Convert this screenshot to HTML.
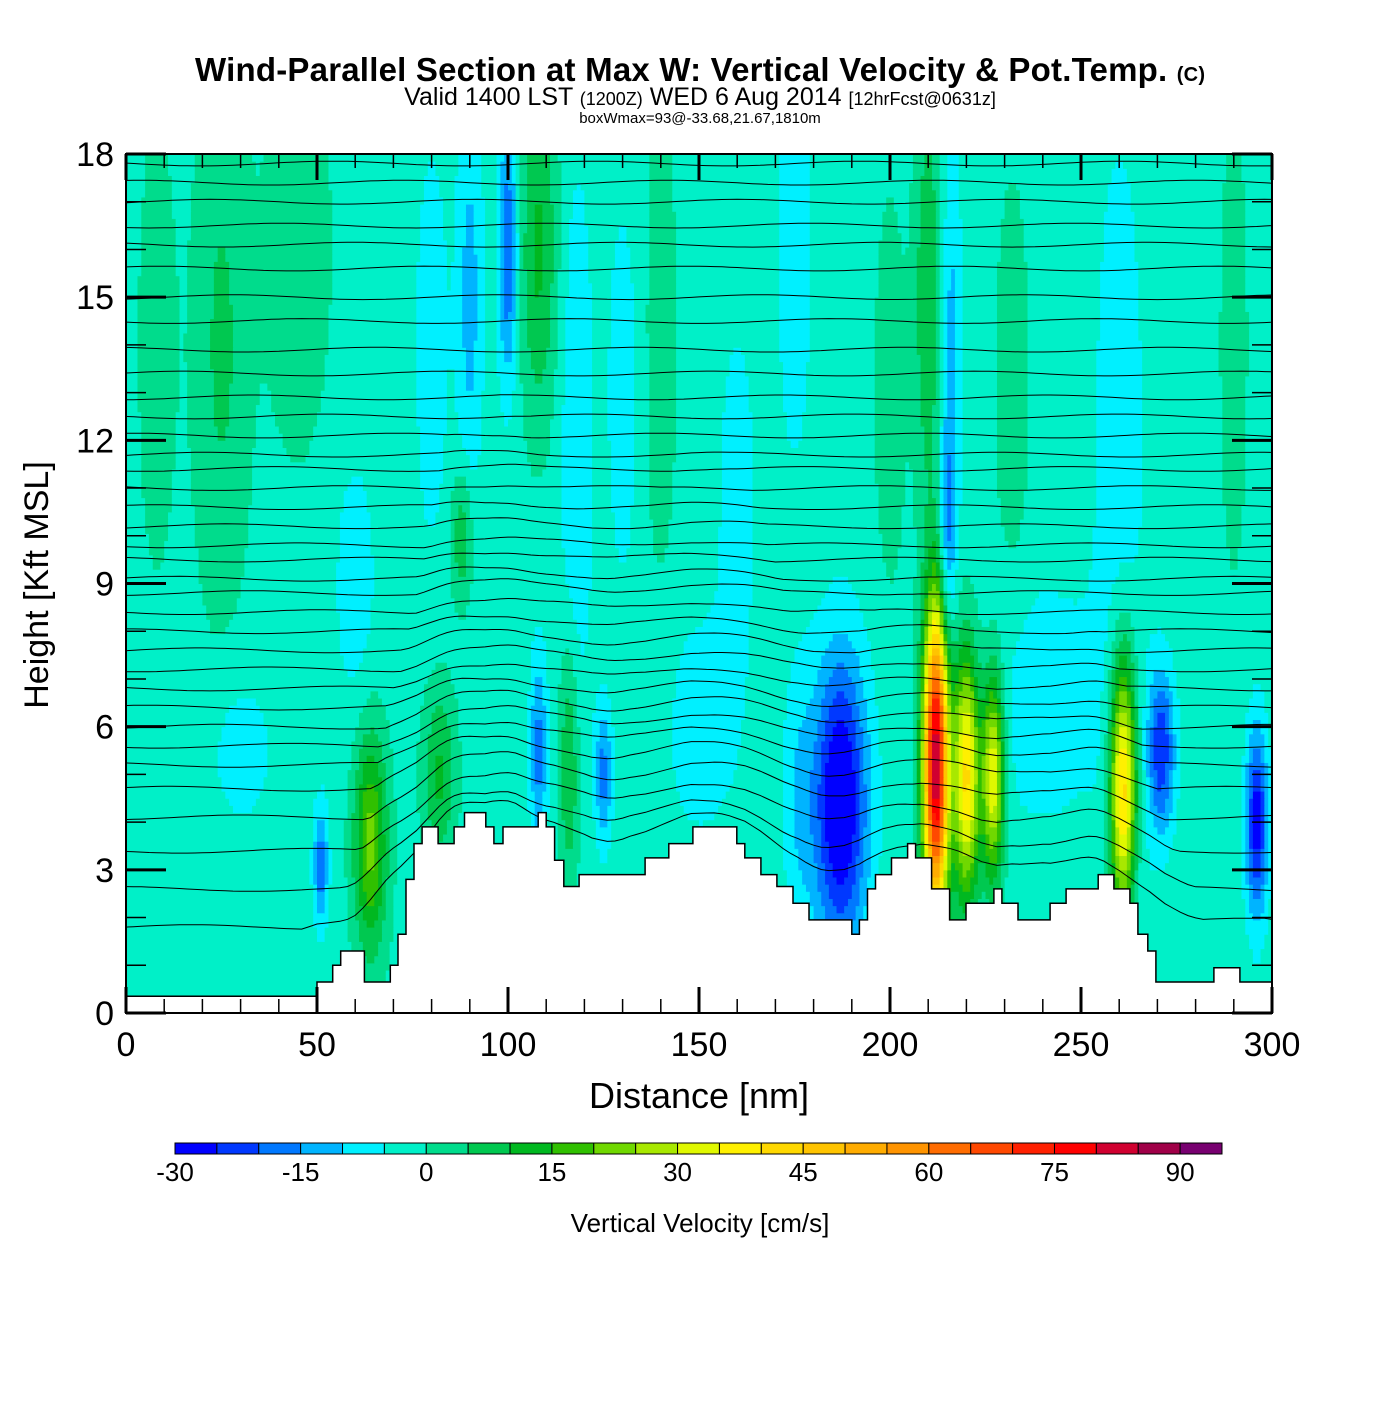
<!DOCTYPE html>
<html><head><meta charset="utf-8"><style>
body{margin:0;background:#fff;width:1400px;height:1400px;overflow:hidden}
svg text{font-family:"Liberation Sans",sans-serif}
</style></head><body>
<svg id="s" width="1400" height="1400" xmlns="http://www.w3.org/2000/svg">
<text x="700" y="81" text-anchor="middle" font-size="33" font-weight="bold" textLength="1010">Wind-Parallel Section at Max W: Vertical Velocity &amp; Pot.Temp. <tspan font-size="20">(C)</tspan></text>
<text x="700" y="105" text-anchor="middle" font-size="25">Valid 1400 LST <tspan font-size="18">(1200Z)</tspan> WED 6 Aug 2014 <tspan font-size="18">[12hrFcst@0631z]</tspan></text>
<text x="700" y="123" text-anchor="middle" font-size="15">boxWmax=93@-33.68,21.67,1810m</text>
<g id="field"></g>
<g id="theta"></g>
<g id="terrain"></g>
<g id="axes"></g>
<text x="699" y="1108" text-anchor="middle" font-size="36">Distance [nm]</text>
<text transform="translate(48,585) rotate(-90)" text-anchor="middle" font-size="34">Height [Kft MSL]</text>
<g id="cbar"></g>
<text x="700" y="1232" text-anchor="middle" font-size="26">Vertical Velocity [cm/s]</text>
</svg>
<script>
// ---- data ----
const colorLevels=[-30,-25,-20,-15,-10,-5,0,5,10,15,20,25,30,35,40,45,50,55,60,65,70,75,80,85,90,95];
const colors=["#0000ff","#0038ff","#0078ff","#00b4ff","#00f0ff","#00f0c8","#00dc8c","#00c850","#00b820","#30c000","#70d800","#a8e800","#e0f800","#fff000","#ffd800","#ffc400","#ffac00","#ff9400","#ff6c00","#ff4800","#ff2000","#ff0000","#d00030","#a00048","#780070"];
const cbarTicks=[-30,-15,0,15,30,45,60,75,90];
const xTicks=[0,50,100,150,200,250,300];
const yTicks=[0,3,6,9,12,15,18];
const background=-2;
// updraft/downdraft cells: centre distance, centre height, half widths, peak
const cellX=[64,51,82,88,108,116,125,187,176,212,220,227,261,271,296,30,215,262,240,150,25,90,100,108,118,80,140,175,210,216,232,260,290,8,60,200,130,45,160];
const cellZ=[3.6,3.1,5.0,10.0,5.5,5.2,5.0,4.4,4.5,5.2,5.0,5.0,4.6,5.5,4.0,5.5,10.0,1.8,6.5,6.0,14,15,16,16,12,14,14,16,15,14,13,12,14,14,9,13,13,16,11];
const cellWX=[3,1.4,3,2,1.6,1.8,1.6,5,3,2.3,2.4,2,2.4,2.5,2,6,1.5,4,12,8,5,2.5,1.8,3.5,3,3,3,3,2.5,2,3,5,3,4,4,3,3,6,4];
const cellWZ=[1.6,0.9,1.3,1.0,1.5,1.8,1.0,2.2,2.0,2.3,1.8,1.5,2.0,1.2,1.4,1.2,1.5,2,2,2,4,3,2,2.5,4,3,4,3,3,3,3,5,4,4,2,3,3,3,3];
const cellW=[24,-16,13,12,-15,13,-15,-31,-7,88,44,38,48,-22,-26,-6,-14,-6,-6,-5,8,-10,-18,13,-8,-7,5,-8,12,-10,6,-6,4,4,-6,5,-6,6,-5];
// terrain steps
const terrX=[0,50,54.1,56.2,62.4,69.2,71.2,73.3,75.4,77.5,81.7,85.9,88.6,90.1,94.2,96.3,98.7,107.9,110,112.2,114.6,118.6,135.9,142.1,148.4,159.9,162,166.2,170.4,174.6,178.8,190,192,194.1,196.2,200.4,204.6,206.7,210.9,215.6,219.9,227.2,229.3,233.5,241.9,246.1,254.5,258.6,262.8,264.9,267.5,269.6,284.8,291.6];
const terrZ=[0.35,0.65,1.0,1.3,0.65,1.0,1.65,2.8,3.55,3.9,3.55,3.9,4.2,4.2,3.9,3.55,3.9,4.2,3.9,3.2,2.65,2.9,3.25,3.55,3.9,3.55,3.25,2.9,2.65,2.3,1.95,1.65,1.95,2.6,2.9,3.25,3.55,3.25,2.6,1.95,2.3,2.6,2.3,1.95,2.3,2.6,2.9,2.6,2.3,1.65,1.3,0.65,0.95,0.65];
// potential temperature contour base heights (kft at left edge)
const thetaLevels=[1.8,2.6,3.4,4.1,4.7,5.2,5.6,6.0,6.4,6.8,7.2,7.6,8.0,8.4,8.8,9.1,9.5,9.8,10.2,10.6,11.0,11.4,11.7,12.1,12.5,12.9,13.4,13.9,14.5,15.0,15.6,16.1,16.5,17.0,17.4,17.8];

const NS="http://www.w3.org/2000/svg";
const X0=126,X1=1272,Y0=1013,Y1=154;
const sx=d=>X0+(d/300)*(X1-X0);
const sy=z=>Y0-(z/18)*(Y0-Y1);
function el(t,a,p){const e=document.createElementNS(NS,t);for(const k in a)e.setAttribute(k,a[k]);p.appendChild(e);return e;}
function wAt(x,z){let v=background;for(let i=0;i<cellX.length;i++){const dx=(x-cellX[i])/cellWX[i],dz=(z-cellZ[i])/cellWZ[i];v+=cellW[i]*Math.exp(-0.5*(dx*dx+dz*dz));}return v;}
function colorOf(v){for(let i=0;i<colors.length;i++){if(v<colorLevels[i+1])return colors[i];}return colors[colors.length-1];}
function terr(x){let h=terrZ[0];for(let i=0;i<terrX.length;i++){if(x>=terrX[i])h=terrZ[i];}return h;}

// field
const field=document.getElementById('field');
const dx=1,dz=0.15;
for(let z=0;z<18;z+=dz){let start=0,cur=null;
 for(let x=0;x<=300;x+=dx){const c=x<300?colorOf(wAt(x+dx/2,z+dz/2)):null;
  if(c!==cur){if(cur){const r=el('rect',{x:sx(start),y:sy(z+dz)-0.5,width:sx(x)-sx(start)+0.6,height:sy(z)-sy(z+dz)+1,fill:cur},field);
    
    }
   cur=c;start=x;}}}

// theta contours
const theta=document.getElementById('theta');
function smoothTerr(x){let s=0,n=0;for(let k=-12;k<=12;k+=2){s+=terr(Math.min(300,Math.max(0,x+k)));n++;}return s/n;}
thetaLevels.forEach((b,j)=>{let d='';
 for(let x=0;x<=300;x+=2){const lift=Math.max(0,smoothTerr(x)-b*0.3)*Math.exp(-b/5)*1.1;
  const z=Math.min(17.95,b+lift+0.05*Math.sin(x/11+j*1.7));d+=(x?'L':'M')+sx(x).toFixed(1)+','+sy(z).toFixed(1);}
 const p=el('path',{d:d,fill:'none',stroke:'#000','stroke-width':1},theta);
 
 });

// terrain
const tg=document.getElementById('terrain');
let td='M'+sx(0)+','+sy(0);
for(let i=0;i<terrX.length;i++){td+='L'+sx(terrX[i]).toFixed(1)+','+sy(i?terrZ[i-1]:terrZ[0]).toFixed(1)+'L'+sx(terrX[i]).toFixed(1)+','+sy(terrZ[i]).toFixed(1);}
td+='L'+sx(300)+','+sy(terrZ[terrZ.length-1]).toFixed(1)+'L'+sx(300)+','+sy(0)+'Z';
const tp=el('path',{d:td,fill:'#fff',stroke:'#000','stroke-width':1.5},tg);



// axes
const ax=document.getElementById('axes');
const fr=el('rect',{x:X0,y:Y1,width:X1-X0,height:Y0-Y1,fill:'none',stroke:'#000','stroke-width':2},ax);


for(let d=0;d<=300;d+=10){const maj=d%50===0;const L=maj?26:14;
 el('line',{x1:sx(d),y1:Y0,x2:sx(d),y2:Y0-L,stroke:'#000','stroke-width':maj?3:1.5},ax);
 el('line',{x1:sx(d),y1:Y1,x2:sx(d),y2:Y1+L,stroke:'#000','stroke-width':maj?3:1.5},ax);}
xTicks.forEach(d=>{const t=el('text',{x:sx(d),y:1056,'text-anchor':'middle','font-size':34},ax);t.textContent=d;
 
 });
for(let z=0;z<=18;z+=1){const maj=z%3===0;const L=maj?40:20;
 el('line',{x1:X0,y1:sy(z),x2:X0+L,y2:sy(z),stroke:'#000','stroke-width':maj?3:1.5},ax);
 el('line',{x1:X1,y1:sy(z),x2:X1-L,y2:sy(z),stroke:'#000','stroke-width':maj?3:1.5},ax);}
yTicks.forEach(z=>{const t=el('text',{x:114,y:sy(z)+12,'text-anchor':'end','font-size':34},ax);t.textContent=z;
 
 });

// colorbar
const cb=document.getElementById('cbar');
const CB0=175,CB1=1222,cw=(CB1-CB0)/colors.length;
const cx=v=>CB0+(v-colorLevels[0])/(colorLevels[colorLevels.length-1]-colorLevels[0])*(CB1-CB0);
colors.forEach((c,i)=>{const r=el('rect',{x:cx(colorLevels[i]),y:1143,width:cw,height:11,fill:c,stroke:'#000','stroke-width':1},cb);
 
 });
cbarTicks.forEach(v=>{const t=el('text',{x:cx(v),y:1181,'text-anchor':'middle','font-size':26},cb);t.textContent=v;
 
 });
</script>
</body></html>
